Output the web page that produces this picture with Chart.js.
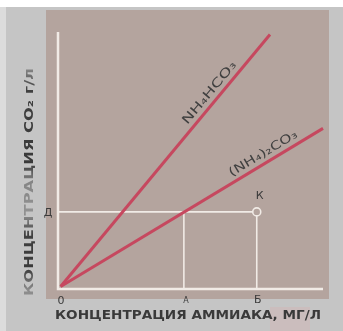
<!DOCTYPE html>
<html><head><meta charset="utf-8">
<script src="https://cdn.jsdelivr.net/npm/chart.js@4"></script>
<style>html,body{margin:0;padding:0;background:#fff;overflow:hidden}canvas{display:block}</style>
</head><body>
<canvas id="c" width="343" height="331"></canvas>
<script>
// Axis ranges (relative units)
const ammoniaRange = [0, 10];
const co2Range = [0, 10];

// NH4HCO3 line
const bicarbonateX = [0.1, 8.0];
const bicarbonateY = [0.1, 9.9];
// (NH4)2CO3 line
const carbonateX = [0.1, 10.0];
const carbonateY = [0.1, 6.25];

// Marked levels
const levelD = 3.0;   // Д
const concA = 4.75;   // А
const concB = 7.5;    // Б

const tickLabels = { zero: '0', a: 'А', b: 'Б', d: 'Д', k: 'К' };
const seriesNames = ['NH₄HCO₃', '(NH₄)₂CO₃'];
const xTitle = 'КОНЦЕНТРАЦИЯ АММИАКА, МГ/Л';
const yTitle = 'КОНЦЕНТРАЦИЯ СО₂ г/л';

const RED = '#c6485f';
const WHITE = '#f1ebe6';
const BROWN = '#b4a49e';
const GREY = '#c5c5c5';
const INK = '#3a3a3a';

const pts = (xs, ys) => xs.map((x, i) => ({ x, y: ys[i] }));

function fitText(ctx, text, cx, cy, width) {
  const w = ctx.measureText(text).width;
  ctx.save();
  ctx.translate(cx, cy);
  ctx.scale(width / w, 1);
  ctx.fillText(text, 0, 0);
  ctx.restore();
}

const decor = {
  id: 'decor',
  beforeDraw(chart) {
    const ctx = chart.ctx;
    ctx.save();
    ctx.fillStyle = '#ffffff';
    ctx.fillRect(0, 0, 343, 331);
    ctx.fillStyle = '#dcdcdc';
    ctx.fillRect(0, 7, 6, 324);
    ctx.fillStyle = GREY;
    ctx.fillRect(6, 7, 337, 324);
    ctx.fillStyle = BROWN;
    ctx.fillRect(46, 10, 283, 289);
    ctx.fillStyle = '#cbbdbd';
    ctx.fillRect(270, 307, 40, 24);
    ctx.restore();
  },
  afterDraw(chart) {
    const ctx = chart.ctx;
    const xs = chart.scales.x, ys = chart.scales.y;
    ctx.save();
    ctx.fillStyle = INK;
    ctx.textAlign = 'center';
    ctx.textBaseline = 'middle';

    // tick letters
    ctx.font = '11px "DejaVu Sans"';
    ctx.fillText(tickLabels.zero, xs.getPixelForValue(0) + 3, ys.getPixelForValue(0) + 12);
    ctx.fillText(tickLabels.b, xs.getPixelForValue(concB) + 1, ys.getPixelForValue(0) + 11);
    ctx.fillText(tickLabels.d, xs.getPixelForValue(0) - 10, ys.getPixelForValue(levelD) + 1);
    ctx.fillText(tickLabels.k, xs.getPixelForValue(concB) + 3, ys.getPixelForValue(levelD) - 16);
    ctx.font = '8px "DejaVu Sans"';
    ctx.fillText(tickLabels.a, xs.getPixelForValue(concA) + 2, ys.getPixelForValue(0) + 12);

    // series names along their lines
    const series = [[bicarbonateX, bicarbonateY, 0.745, 9], [carbonateX, carbonateY, 0.79, 9]];
    ctx.font = '12px "DejaVu Sans"';
    ctx.fillStyle = '#404040';
    series.forEach(([sx, sy, t, off], i) => {
      const x0 = xs.getPixelForValue(sx[0]), y0 = ys.getPixelForValue(sy[0]);
      const x1 = xs.getPixelForValue(sx[1]), y1 = ys.getPixelForValue(sy[1]);
      const ang = Math.atan2(y1 - y0, x1 - x0);
      const px = x0 + (x1 - x0) * t, py = y0 + (y1 - y0) * t;
      ctx.save();
      ctx.translate(px, py);
      ctx.rotate(ang);
      fitText(ctx, seriesNames[i], 0, -off, 78);
      ctx.restore();
    });

    // axis titles
    ctx.fillStyle = INK;
    ctx.font = 'bold 13px "DejaVu Sans"';
    fitText(ctx, xTitle, 188, 316, 266);
    ctx.save();
    ctx.translate(30, 182);
    ctx.rotate(-Math.PI / 2);
    ctx.font = 'bold 12px "DejaVu Sans"';
    const g = ctx.createLinearGradient(-114, 0, 114, 0);
    g.addColorStop(0.0, 'rgba(70,70,70,0.35)');
    g.addColorStop(0.15, 'rgba(70,70,70,0.45)');
    g.addColorStop(0.22, 'rgba(50,50,50,0.95)');
    g.addColorStop(0.33, 'rgba(50,50,50,0.9)');
    g.addColorStop(0.40, 'rgba(70,70,70,0.4)');
    g.addColorStop(0.50, 'rgba(70,70,70,0.5)');
    g.addColorStop(0.56, 'rgba(50,50,50,0.95)');
    g.addColorStop(0.80, 'rgba(50,50,50,0.9)');
    g.addColorStop(0.88, 'rgba(70,70,70,0.4)');
    g.addColorStop(1.0, 'rgba(70,70,70,0.3)');
    ctx.fillStyle = g;
    fitText(ctx, yTitle, 0, 0, 228);
    ctx.restore();
    ctx.restore();
  }
};

new Chart(document.getElementById('c'), {
  type: 'line',
  data: {
    datasets: [
      { data: pts(bicarbonateX, bicarbonateY), borderColor: RED, borderWidth: 3, pointRadius: 0, order: 0, clip: false },
      { data: pts(carbonateX, carbonateY), borderColor: RED, borderWidth: 3, pointRadius: 0, order: 0, clip: false },
      { data: [{ x: concB, y: levelD }], showLine: false, pointRadius: 4, pointBorderWidth: 1.6,
        pointBorderColor: WHITE, pointBackgroundColor: BROWN, order: 0, clip: false },
      { data: [{ x: 0, y: levelD }, { x: concB, y: levelD }], borderColor: WHITE, borderWidth: 1.6, pointRadius: 0, order: 2, clip: false },
      { data: [{ x: concA, y: 0 }, { x: concA, y: levelD }], borderColor: WHITE, borderWidth: 1.6, pointRadius: 0, order: 2, clip: false },
      { data: [{ x: concB, y: 0 }, { x: concB, y: levelD }], borderColor: WHITE, borderWidth: 1.6, pointRadius: 0, order: 2, clip: false },
      { data: [{ x: ammoniaRange[0], y: co2Range[1] }, { x: 0, y: 0 }, { x: ammoniaRange[1], y: 0 }],
        borderColor: WHITE, borderWidth: 2.5, pointRadius: 0, order: 1, clip: false }
    ]
  },
  options: {
    responsive: false,
    animation: false,
    devicePixelRatio: 1,
    layout: { padding: { left: 58, right: 20, top: 32, bottom: 42 } },
    plugins: { legend: { display: false }, tooltip: { enabled: false } },
    scales: {
      x: { type: 'linear', min: ammoniaRange[0], max: ammoniaRange[1], display: false },
      y: { type: 'linear', min: co2Range[0], max: co2Range[1], display: false }
    }
  },
  plugins: [decor]
});
</script>
</body></html>
